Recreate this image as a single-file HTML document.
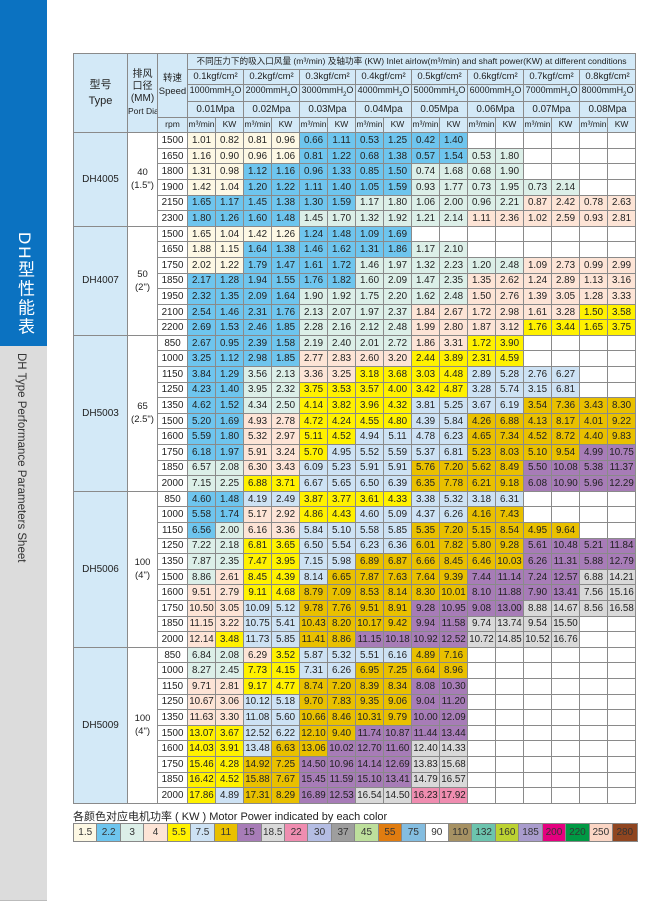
<!DOCTYPE html>
<html><head><meta charset="utf-8">
<style>
*{margin:0;padding:0;box-sizing:border-box}
body{width:666px;height:904px;background:#fff;position:relative;overflow:hidden;font-family:"Liberation Sans","Noto Sans CJK SC",sans-serif;color:#222}
#side{position:absolute;left:0;top:0;width:47px;height:901px;background:#dcdcdc;border-bottom:1px solid #bbb}
#blue{position:absolute;left:0;top:0;width:47px;height:346px;background:#0b72c1}
#cn{position:absolute;left:12px;top:232px;writing-mode:vertical-rl;color:#fff;font-size:17px;letter-spacing:2px;font-family:"Liberation Sans","Noto Sans CJK SC",sans-serif}
#en{position:absolute;left:15px;top:353px;writing-mode:vertical-rl;color:#333;font-size:11.5px}
table{position:absolute;left:73px;top:53px;width:562px;border-collapse:collapse;table-layout:fixed;font-size:9.8px}
td,th{border:1px solid #8a8a8a;text-align:center;vertical-align:middle;font-weight:normal;white-space:nowrap;overflow:hidden;padding:0;line-height:11px}
tr{height:15.6px}
th{background:#d3e9f7}
.t{background:#d3e9f7;font-size:10px}
.pd{background:#fff;font-size:9.5px;line-height:13px}
.g1 td{border-top:1.5px solid #555}
.a{background:#fdf8e4}.b{background:#6ec5ee}.m{background:#dcefe8}.p{background:#fde4d6}.y{background:#fff100}.l{background:#cde2f4}.g{background:#e9c000}.v{background:#a77cb7}.s{background:#d9d9d9}.k{background:#ef8db0}
#lt{position:absolute;left:73px;top:808px;font-size:11px;color:#222}
#lg{position:absolute;left:73px;top:823px;display:flex;border:1px solid #888}
#lg div{width:23.45px;height:17px;border-right:1px solid #888;font-size:10px;text-align:center;line-height:17px;color:#333}
#lg div:last-child{border-right:none}
</style></head><body>
<div id="side"></div><div id="blue"></div>
<div id="cn">DH型性能表</div>
<div id="en">DH Type Performance Parameters Sheet</div>
<table>
<colgroup><col style="width:54px"><col style="width:30px"><col style="width:30px"><col span="16" style="width:28px"></colgroup>
<tr><th rowspan="5" style="font-size:11px;line-height:16px">型号<br>Type</th><th rowspan="5" style="font-size:10px;line-height:12px">排风<br>口径<br>(MM)<br><span style="font-size:8.5px">Port Dia</span></th><th rowspan="4" style="font-size:9.5px;line-height:13px">转速<br>Speed</th><th colspan="16" style="font-size:8.6px">不同压力下的吸入口风量 (m³/min) 及轴功率 (KW) Inlet airlow(m³/min) and shaft power(KW) at different conditions</th></tr>
<tr style="font-size:9.5px"><th colspan="2">0.1kgf/cm²</th><th colspan="2">0.2kgf/cm²</th><th colspan="2">0.3kgf/cm²</th><th colspan="2">0.4kgf/cm²</th><th colspan="2">0.5kgf/cm²</th><th colspan="2">0.6kgf/cm²</th><th colspan="2">0.7kgf/cm²</th><th colspan="2">0.8kgf/cm²</th></tr>
<tr style="font-size:9px"><th colspan="2">1000mmH<sub style="font-size:6px">2</sub>O</th><th colspan="2">2000mmH<sub style="font-size:6px">2</sub>O</th><th colspan="2">3000mmH<sub style="font-size:6px">2</sub>O</th><th colspan="2">4000mmH<sub style="font-size:6px">2</sub>O</th><th colspan="2">5000mmH<sub style="font-size:6px">2</sub>O</th><th colspan="2">6000mmH<sub style="font-size:6px">2</sub>O</th><th colspan="2">7000mmH<sub style="font-size:6px">2</sub>O</th><th colspan="2">8000mmH<sub style="font-size:6px">2</sub>O</th></tr>
<tr><th colspan="2">0.01Mpa</th><th colspan="2">0.02Mpa</th><th colspan="2">0.03Mpa</th><th colspan="2">0.04Mpa</th><th colspan="2">0.05Mpa</th><th colspan="2">0.06Mpa</th><th colspan="2">0.07Mpa</th><th colspan="2">0.08Mpa</th></tr>
<tr style="font-size:8.5px"><th>rpm</th><th>m³/min</th><th>KW</th><th>m³/min</th><th>KW</th><th>m³/min</th><th>KW</th><th>m³/min</th><th>KW</th><th>m³/min</th><th>KW</th><th>m³/min</th><th>KW</th><th>m³/min</th><th>KW</th><th>m³/min</th><th>KW</th></tr>

<tr class="g1"><td rowspan="6" class="t">DH4005</td><td rowspan="6" class="pd">40<br>(1.5")</td><td>1500</td><td class="a">1.01</td><td class="a">0.82</td><td class="a">0.81</td><td class="a">0.96</td><td class="b">0.66</td><td class="b">1.11</td><td class="b">0.53</td><td class="b">1.25</td><td class="b">0.42</td><td class="b">1.40</td><td></td><td></td><td></td><td></td><td></td><td></td></tr>
<tr><td>1650</td><td class="a">1.16</td><td class="a">0.90</td><td class="a">0.96</td><td class="a">1.06</td><td class="b">0.81</td><td class="b">1.22</td><td class="b">0.68</td><td class="b">1.38</td><td class="b">0.57</td><td class="b">1.54</td><td class="m">0.53</td><td class="m">1.80</td><td></td><td></td><td></td><td></td></tr>
<tr><td>1800</td><td class="a">1.31</td><td class="a">0.98</td><td class="b">1.12</td><td class="b">1.16</td><td class="b">0.96</td><td class="b">1.33</td><td class="b">0.85</td><td class="b">1.50</td><td class="m">0.74</td><td class="m">1.68</td><td class="m">0.68</td><td class="m">1.90</td><td></td><td></td><td></td><td></td></tr>
<tr><td>1900</td><td class="a">1.42</td><td class="a">1.04</td><td class="b">1.20</td><td class="b">1.22</td><td class="b">1.11</td><td class="b">1.40</td><td class="b">1.05</td><td class="b">1.59</td><td class="m">0.93</td><td class="m">1.77</td><td class="m">0.73</td><td class="m">1.95</td><td class="m">0.73</td><td class="m">2.14</td><td></td><td></td></tr>
<tr><td>2150</td><td class="b">1.65</td><td class="b">1.17</td><td class="b">1.45</td><td class="b">1.38</td><td class="b">1.30</td><td class="b">1.59</td><td class="m">1.17</td><td class="m">1.80</td><td class="m">1.06</td><td class="m">2.00</td><td class="m">0.96</td><td class="m">2.21</td><td class="p">0.87</td><td class="p">2.42</td><td class="p">0.78</td><td class="p">2.63</td></tr>
<tr><td>2300</td><td class="b">1.80</td><td class="b">1.26</td><td class="b">1.60</td><td class="b">1.48</td><td class="m">1.45</td><td class="m">1.70</td><td class="m">1.32</td><td class="m">1.92</td><td class="m">1.21</td><td class="m">2.14</td><td class="p">1.11</td><td class="p">2.36</td><td class="p">1.02</td><td class="p">2.59</td><td class="p">0.93</td><td class="p">2.81</td></tr>

<tr class="g1"><td rowspan="7" class="t">DH4007</td><td rowspan="7" class="pd">50<br>(2")</td><td>1500</td><td class="a">1.65</td><td class="a">1.04</td><td class="a">1.42</td><td class="a">1.26</td><td class="b">1.24</td><td class="b">1.48</td><td class="b">1.09</td><td class="b">1.69</td><td></td><td></td><td></td><td></td><td></td><td></td><td></td><td></td></tr>
<tr><td>1650</td><td class="a">1.88</td><td class="a">1.15</td><td class="b">1.64</td><td class="b">1.38</td><td class="b">1.46</td><td class="b">1.62</td><td class="b">1.31</td><td class="b">1.86</td><td class="m">1.17</td><td class="m">2.10</td><td></td><td></td><td></td><td></td><td></td><td></td></tr>
<tr><td>1750</td><td class="a">2.02</td><td class="a">1.22</td><td class="b">1.79</td><td class="b">1.47</td><td class="b">1.61</td><td class="b">1.72</td><td class="m">1.46</td><td class="m">1.97</td><td class="m">1.32</td><td class="m">2.23</td><td class="m">1.20</td><td class="m">2.48</td><td class="p">1.09</td><td class="p">2.73</td><td class="p">0.99</td><td class="p">2.99</td></tr>
<tr><td>1850</td><td class="b">2.17</td><td class="b">1.28</td><td class="b">1.94</td><td class="b">1.55</td><td class="b">1.76</td><td class="b">1.82</td><td class="m">1.60</td><td class="m">2.09</td><td class="m">1.47</td><td class="m">2.35</td><td class="p">1.35</td><td class="p">2.62</td><td class="p">1.24</td><td class="p">2.89</td><td class="p">1.13</td><td class="p">3.16</td></tr>
<tr><td>1950</td><td class="b">2.32</td><td class="b">1.35</td><td class="b">2.09</td><td class="b">1.64</td><td class="m">1.90</td><td class="m">1.92</td><td class="m">1.75</td><td class="m">2.20</td><td class="m">1.62</td><td class="m">2.48</td><td class="p">1.50</td><td class="p">2.76</td><td class="p">1.39</td><td class="p">3.05</td><td class="p">1.28</td><td class="p">3.33</td></tr>
<tr><td>2100</td><td class="b">2.54</td><td class="b">1.46</td><td class="b">2.31</td><td class="b">1.76</td><td class="m">2.13</td><td class="m">2.07</td><td class="m">1.97</td><td class="m">2.37</td><td class="p">1.84</td><td class="p">2.67</td><td class="p">1.72</td><td class="p">2.98</td><td class="p">1.61</td><td class="p">3.28</td><td class="y">1.50</td><td class="y">3.58</td></tr>
<tr><td>2200</td><td class="b">2.69</td><td class="b">1.53</td><td class="b">2.46</td><td class="b">1.85</td><td class="m">2.28</td><td class="m">2.16</td><td class="m">2.12</td><td class="m">2.48</td><td class="p">1.99</td><td class="p">2.80</td><td class="p">1.87</td><td class="p">3.12</td><td class="y">1.76</td><td class="y">3.44</td><td class="y">1.65</td><td class="y">3.75</td></tr>

<tr class="g1"><td rowspan="10" class="t">DH5003</td><td rowspan="10" class="pd">65<br>(2.5")</td><td>850</td><td class="b">2.67</td><td class="b">0.95</td><td class="b">2.39</td><td class="b">1.58</td><td class="m">2.19</td><td class="m">2.40</td><td class="m">2.01</td><td class="m">2.72</td><td class="p">1.86</td><td class="p">3.31</td><td class="y">1.72</td><td class="y">3.90</td><td></td><td></td><td></td><td></td></tr>
<tr><td>1000</td><td class="b">3.25</td><td class="b">1.12</td><td class="b">2.98</td><td class="b">1.85</td><td class="p">2.77</td><td class="p">2.83</td><td class="p">2.60</td><td class="p">3.20</td><td class="y">2.44</td><td class="y">3.89</td><td class="y">2.31</td><td class="y">4.59</td><td></td><td></td><td></td><td></td></tr>
<tr><td>1150</td><td class="b">3.84</td><td class="b">1.29</td><td class="m">3.56</td><td class="m">2.13</td><td class="p">3.36</td><td class="p">3.25</td><td class="y">3.18</td><td class="y">3.68</td><td class="y">3.03</td><td class="y">4.48</td><td class="l">2.89</td><td class="l">5.28</td><td class="l">2.76</td><td class="l">6.27</td><td></td><td></td></tr>
<tr><td>1250</td><td class="b">4.23</td><td class="b">1.40</td><td class="m">3.95</td><td class="m">2.32</td><td class="y">3.75</td><td class="y">3.53</td><td class="y">3.57</td><td class="y">4.00</td><td class="y">3.42</td><td class="y">4.87</td><td class="l">3.28</td><td class="l">5.74</td><td class="l">3.15</td><td class="l">6.81</td><td></td><td></td></tr>
<tr><td>1350</td><td class="b">4.62</td><td class="b">1.52</td><td class="m">4.34</td><td class="m">2.50</td><td class="y">4.14</td><td class="y">3.82</td><td class="y">3.96</td><td class="y">4.32</td><td class="l">3.81</td><td class="l">5.25</td><td class="l">3.67</td><td class="l">6.19</td><td class="g">3.54</td><td class="g">7.36</td><td class="g">3.43</td><td class="g">8.30</td></tr>
<tr><td>1500</td><td class="b">5.20</td><td class="b">1.69</td><td class="p">4.93</td><td class="p">2.78</td><td class="y">4.72</td><td class="y">4.24</td><td class="y">4.55</td><td class="y">4.80</td><td class="l">4.39</td><td class="l">5.84</td><td class="g">4.26</td><td class="g">6.88</td><td class="g">4.13</td><td class="g">8.17</td><td class="g">4.01</td><td class="g">9.22</td></tr>
<tr><td>1600</td><td class="b">5.59</td><td class="b">1.80</td><td class="p">5.32</td><td class="p">2.97</td><td class="y">5.11</td><td class="y">4.52</td><td class="l">4.94</td><td class="l">5.11</td><td class="l">4.78</td><td class="l">6.23</td><td class="g">4.65</td><td class="g">7.34</td><td class="g">4.52</td><td class="g">8.72</td><td class="g">4.40</td><td class="g">9.83</td></tr>
<tr><td>1750</td><td class="b">6.18</td><td class="b">1.97</td><td class="p">5.91</td><td class="p">3.24</td><td class="y">5.70</td><td class="l">4.95</td><td class="l">5.52</td><td class="l">5.59</td><td class="l">5.37</td><td class="l">6.81</td><td class="g">5.23</td><td class="g">8.03</td><td class="g">5.10</td><td class="g">9.54</td><td class="v">4.99</td><td class="v">10.75</td></tr>
<tr><td>1850</td><td class="m">6.57</td><td class="m">2.08</td><td class="p">6.30</td><td class="p">3.43</td><td class="l">6.09</td><td class="l">5.23</td><td class="l">5.91</td><td class="l">5.91</td><td class="g">5.76</td><td class="g">7.20</td><td class="g">5.62</td><td class="g">8.49</td><td class="v">5.50</td><td class="v">10.08</td><td class="v">5.38</td><td class="v">11.37</td></tr>
<tr><td>2000</td><td class="m">7.15</td><td class="m">2.25</td><td class="y">6.88</td><td class="y">3.71</td><td class="l">6.67</td><td class="l">5.65</td><td class="l">6.50</td><td class="l">6.39</td><td class="g">6.35</td><td class="g">7.78</td><td class="g">6.21</td><td class="g">9.18</td><td class="v">6.08</td><td class="v">10.90</td><td class="v">5.96</td><td class="v">12.29</td></tr>

<tr class="g1"><td rowspan="10" class="t">DH5006</td><td rowspan="10" class="pd">100<br>(4")</td><td>850</td><td class="b">4.60</td><td class="b">1.48</td><td class="l">4.19</td><td class="l">2.49</td><td class="y">3.87</td><td class="y">3.77</td><td class="y">3.61</td><td class="y">4.33</td><td class="l">3.38</td><td class="l">5.32</td><td class="l">3.18</td><td class="l">6.31</td><td></td><td></td><td></td><td></td></tr>
<tr><td>1000</td><td class="b">5.58</td><td class="b">1.74</td><td class="p">5.17</td><td class="p">2.92</td><td class="y">4.86</td><td class="y">4.43</td><td class="l">4.60</td><td class="l">5.09</td><td class="l">4.37</td><td class="l">6.26</td><td class="g">4.16</td><td class="g">7.43</td><td></td><td></td><td></td><td></td></tr>
<tr><td>1150</td><td class="b">6.56</td><td class="m">2.00</td><td class="p">6.16</td><td class="p">3.36</td><td class="l">5.84</td><td class="l">5.10</td><td class="l">5.58</td><td class="l">5.85</td><td class="g">5.35</td><td class="g">7.20</td><td class="g">5.15</td><td class="g">8.54</td><td class="g">4.95</td><td class="g">9.64</td><td></td><td></td></tr>
<tr><td>1250</td><td class="m">7.22</td><td class="m">2.18</td><td class="y">6.81</td><td class="y">3.65</td><td class="l">6.50</td><td class="l">5.54</td><td class="l">6.23</td><td class="l">6.36</td><td class="g">6.01</td><td class="g">7.82</td><td class="g">5.80</td><td class="g">9.28</td><td class="v">5.61</td><td class="v">10.48</td><td class="v">5.21</td><td class="v">11.84</td></tr>
<tr><td>1350</td><td class="m">7.87</td><td class="m">2.35</td><td class="y">7.47</td><td class="y">3.95</td><td class="l">7.15</td><td class="l">5.98</td><td class="g">6.89</td><td class="g">6.87</td><td class="g">6.66</td><td class="g">8.45</td><td class="g">6.46</td><td class="g">10.03</td><td class="v">6.26</td><td class="v">11.31</td><td class="v">5.88</td><td class="v">12.79</td></tr>
<tr><td>1500</td><td class="m">8.86</td><td class="p">2.61</td><td class="y">8.45</td><td class="y">4.39</td><td class="l">8.14</td><td class="g">6.65</td><td class="g">7.87</td><td class="g">7.63</td><td class="g">7.64</td><td class="g">9.39</td><td class="v">7.44</td><td class="v">11.14</td><td class="v">7.24</td><td class="v">12.57</td><td class="s">6.88</td><td class="s">14.21</td></tr>
<tr><td>1600</td><td class="p">9.51</td><td class="p">2.79</td><td class="y">9.11</td><td class="y">4.68</td><td class="g">8.79</td><td class="g">7.09</td><td class="g">8.53</td><td class="g">8.14</td><td class="g">8.30</td><td class="g">10.01</td><td class="v">8.10</td><td class="v">11.88</td><td class="v">7.90</td><td class="v">13.41</td><td class="s">7.56</td><td class="s">15.16</td></tr>
<tr><td>1750</td><td class="p">10.50</td><td class="p">3.05</td><td class="l">10.09</td><td class="l">5.12</td><td class="g">9.78</td><td class="g">7.76</td><td class="g">9.51</td><td class="g">8.91</td><td class="v">9.28</td><td class="v">10.95</td><td class="v">9.08</td><td class="v">13.00</td><td class="s">8.88</td><td class="s">14.67</td><td class="s">8.56</td><td class="s">16.58</td></tr>
<tr><td>1850</td><td class="p">11.15</td><td class="p">3.22</td><td class="l">10.75</td><td class="l">5.41</td><td class="g">10.43</td><td class="g">8.20</td><td class="g">10.17</td><td class="g">9.42</td><td class="v">9.94</td><td class="v">11.58</td><td class="s">9.74</td><td class="s">13.74</td><td class="s">9.54</td><td class="s">15.50</td><td></td><td></td></tr>
<tr><td>2000</td><td class="p">12.14</td><td class="y">3.48</td><td class="l">11.73</td><td class="l">5.85</td><td class="g">11.41</td><td class="g">8.86</td><td class="v">11.15</td><td class="v">10.18</td><td class="v">10.92</td><td class="v">12.52</td><td class="s">10.72</td><td class="s">14.85</td><td class="s">10.52</td><td class="s">16.76</td><td></td><td></td></tr>

<tr class="g1"><td rowspan="10" class="t">DH5009</td><td rowspan="10" class="pd">100<br>(4")</td><td>850</td><td class="m">6.84</td><td class="m">2.08</td><td class="p">6.29</td><td class="y">3.52</td><td class="l">5.87</td><td class="l">5.32</td><td class="l">5.51</td><td class="l">6.16</td><td class="g">4.89</td><td class="g">7.16</td><td></td><td></td><td></td><td></td><td></td><td></td></tr>
<tr><td>1000</td><td class="m">8.27</td><td class="m">2.45</td><td class="y">7.73</td><td class="y">4.15</td><td class="l">7.31</td><td class="l">6.26</td><td class="g">6.95</td><td class="g">7.25</td><td class="g">6.64</td><td class="g">8.96</td><td></td><td></td><td></td><td></td><td></td><td></td></tr>
<tr><td>1150</td><td class="p">9.71</td><td class="p">2.81</td><td class="y">9.17</td><td class="y">4.77</td><td class="g">8.74</td><td class="g">7.20</td><td class="g">8.39</td><td class="g">8.34</td><td class="v">8.08</td><td class="v">10.30</td><td></td><td></td><td></td><td></td><td></td><td></td></tr>
<tr><td>1250</td><td class="p">10.67</td><td class="p">3.06</td><td class="l">10.12</td><td class="l">5.18</td><td class="g">9.70</td><td class="g">7.83</td><td class="g">9.35</td><td class="g">9.06</td><td class="v">9.04</td><td class="v">11.20</td><td></td><td></td><td></td><td></td><td></td><td></td></tr>
<tr><td>1350</td><td class="p">11.63</td><td class="p">3.30</td><td class="l">11.08</td><td class="l">5.60</td><td class="g">10.66</td><td class="g">8.46</td><td class="g">10.31</td><td class="g">9.79</td><td class="v">10.00</td><td class="v">12.09</td><td></td><td></td><td></td><td></td><td></td><td></td></tr>
<tr><td>1500</td><td class="y">13.07</td><td class="y">3.67</td><td class="l">12.52</td><td class="l">6.22</td><td class="g">12.10</td><td class="g">9.40</td><td class="v">11.74</td><td class="v">10.87</td><td class="v">11.44</td><td class="v">13.44</td><td></td><td></td><td></td><td></td><td></td><td></td></tr>
<tr><td>1600</td><td class="y">14.03</td><td class="y">3.91</td><td class="l">13.48</td><td class="g">6.63</td><td class="g">13.06</td><td class="v">10.02</td><td class="v">12.70</td><td class="v">11.60</td><td class="s">12.40</td><td class="s">14.33</td><td></td><td></td><td></td><td></td><td></td><td></td></tr>
<tr><td>1750</td><td class="y">15.46</td><td class="y">4.28</td><td class="g">14.92</td><td class="g">7.25</td><td class="v">14.50</td><td class="v">10.96</td><td class="v">14.14</td><td class="v">12.69</td><td class="s">13.83</td><td class="s">15.68</td><td></td><td></td><td></td><td></td><td></td><td></td></tr>
<tr><td>1850</td><td class="y">16.42</td><td class="y">4.52</td><td class="g">15.88</td><td class="g">7.67</td><td class="v">15.45</td><td class="v">11.59</td><td class="v">15.10</td><td class="v">13.41</td><td class="s">14.79</td><td class="s">16.57</td><td></td><td></td><td></td><td></td><td></td><td></td></tr>
<tr><td>2000</td><td class="y">17.86</td><td class="l">4.89</td><td class="g">17.31</td><td class="g">8.29</td><td class="v">16.89</td><td class="v">12.53</td><td class="s">16.54</td><td class="s">14.50</td><td class="k">16.23</td><td class="k">17.92</td><td></td><td></td><td></td><td></td><td></td><td></td></tr>
</table>
<div id="lt">各颜色对应电机功率 ( KW ) Motor Power indicated by each color</div>
<div id="lg">
<div style="background:#fdf8e4">1.5</div><div style="background:#6ec5ee">2.2</div><div style="background:#dcefe8">3</div><div style="background:#fde4d6">4</div><div style="background:#fff100">5.5</div><div style="background:#cde2f4">7.5</div><div style="background:#e9c000">11</div><div style="background:#a77cb7">15</div><div style="background:#d9d9d9">18.5</div><div style="background:#ef8db0">22</div><div style="background:#b4bde3">30</div><div style="background:#9e9e9e">37</div><div style="background:#bddf9c">45</div><div style="background:#e07c10">55</div><div style="background:#84bde0">75</div><div style="background:#fff">90</div><div style="background:#a69163">110</div><div style="background:#6cc4ae">132</div><div style="background:#bcd232">160</div><div style="background:#a99ccd">185</div><div style="background:#e4007f">200</div><div style="background:#009944">220</div><div style="background:#fbd6c5">250</div><div style="background:#8f4520">280</div>
</div>
</body></html>
